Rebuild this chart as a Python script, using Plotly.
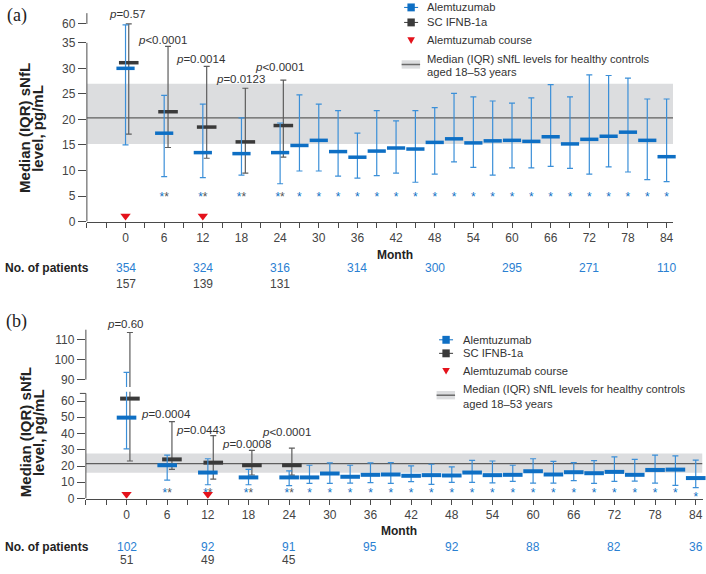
import plotly.graph_objects as go

W, H = 706, 574
def px(x): return x / W
def py(y): return 1 - y / H

# ---------------- data ----------------
alem_months = [0, 6, 12, 18, 24, 27, 30, 33, 36, 39, 42, 45, 48, 51, 54, 57, 60, 63, 66, 69, 72, 75, 78, 81, 84]
ifnb_months = [0, 6, 12, 18, 24]
ifnb_x_a = [0.5, 6.6, 12.6, 18.6, 24.5]
ifnb_x_b = [0.5, 6.7, 12.8, 18.5, 24.4]

# panel (a)
a_alem_med = [30.0, 17.3, 13.5, 13.3, 13.5, 14.9, 15.9, 13.7, 12.6, 13.8, 14.4, 14.2, 15.5, 16.2, 15.4, 15.8, 15.9, 15.7, 16.6, 15.2, 16.1, 16.7, 17.5, 15.9, 12.7]
a_alem_q3 = [59.8, 24.7, 23.0, 20.3, 19.3, 24.8, 23.0, 21.7, 17.3, 21.7, 19.7, 21.7, 22.3, 25.1, 24.4, 23.6, 23.2, 24.2, 26.8, 24.4, 28.7, 28.6, 28.1, 24.0, 24.0]
a_alem_q1 = [15.0, 8.8, 8.6, 9.1, 7.4, 9.9, 9.9, 8.9, 8.5, 9.0, 9.5, 7.7, 9.3, 11.7, 10.6, 9.1, 10.5, 10.5, 10.8, 10.4, 9.3, 10.7, 9.7, 8.2, 7.8]
a_ifnb_med = [31.1, 21.5, 18.5, 15.6, 18.8]
a_ifnb_q3 = [60.0, 34.3, 30.4, 26.1, 27.7]
a_ifnb_q1 = [17.1, 14.5, 12.4, 9.5, 12.6]
a_hc_median, a_hc_q1, a_hc_q3 = 20.3, 15.2, 27.0

# panel (b)
b_alem_med = [49.8, 20.5, 16.0, 13.0, 13.0, 13.0, 15.4, 13.4, 14.6, 14.8, 14.0, 14.4, 14.2, 16.0, 14.4, 14.6, 16.8, 14.8, 16.2, 15.6, 16.4, 14.6, 17.6, 17.8, 12.6]
b_alem_q3 = [93.6, 26.7, 24.5, 18.0, 17.0, 20.5, 21.9, 20.5, 21.9, 22.1, 20.1, 21.1, 19.5, 23.5, 23.1, 20.5, 24.5, 22.9, 22.1, 23.3, 25.6, 24.1, 26.7, 26.3, 23.7]
b_alem_q1 = [30.6, 11.3, 8.5, 8.5, 7.9, 9.3, 9.3, 9.5, 9.8, 9.3, 10.4, 8.7, 9.9, 9.9, 9.7, 10.6, 9.5, 9.5, 11.0, 9.3, 10.6, 10.7, 9.5, 8.1, 6.7]
b_ifnb_med = [61.5, 24.1, 22.1, 20.5, 20.5]
b_ifnb_q3 = [113.6, 47.4, 38.7, 29.6, 31.0]
b_ifnb_q1 = [23.1, 18.0, 12.0, 14.5, 14.4]
b_hc_median, b_hc_q1, b_hc_q3 = 21.5, 15.8, 27.7

course_months = [0, 12]
sig_months = [6, 12, 18, 24] + list(range(27, 85, 3))
sig_marks = ["**"] * 4 + ["*"] * 20

p_a = ["p=0.57", "p<0.0001", "p=0.0014", "p=0.0123", "p<0.0001"]
p_b = ["p=0.60", "p=0.0004", "p=0.0443", "p=0.0008", "p<0.0001"]

npat_months = [0, 12, 24, 36, 48, 60, 72, 84]
a_n_alem = [354, 324, 316, 314, 300, 295, 271, 110]
a_n_ifnb = [157, 139, 131]
b_n_alem = [102, 92, 91, 95, 92, 88, 82, 36]
b_n_ifnb = [51, 49, 45]

x_ticks = list(range(-6, 85, 3))
x_ticktext = [str(v) if (v >= 0 and v % 6 == 0) else "" for v in x_ticks]

# ---------------- styles ----------------
FONT = "Liberation Sans, Arial, sans-serif"
BLUE = "#0e6fc4"
BLUE_ERR = "#3b8fd8"
DARK = "#3a3a3a"
DARK_ERR = "#5c5c5c"
RED = "#e4121b"
TXT = "#333333"
NBLUE = "#2a80d2"
BAND = "#dcdddf"

# broken-axis transforms (value -> display units)
def brk_a(v):
    return v if v <= 36 else v - 21.3

def brk_b(v):
    return v if v <= 70 else 73.2 + (v - 90) * 1.228

fig = go.Figure()

def add_series(xs, med, q1, q3, brk, xa, ya, color, ecolor, size, lw):
    y = [brk(m) for m in med]
    up = [brk(h) - brk(m) for m, h in zip(med, q3)]
    dn = [brk(m) - brk(l) for m, l in zip(med, q1)]
    fig.add_trace(go.Scatter(
        x=xs, y=y, mode="markers", xaxis=xa, yaxis=ya, showlegend=False, cliponaxis=False,
        marker=dict(symbol="line-ew", size=size, line=dict(width=lw, color=color)),
        error_y=dict(type="data", symmetric=False, array=up, arrayminus=dn,
                     color=ecolor, thickness=1.2, width=3),
        hoverinfo="skip"))

# panel a
add_series(ifnb_x_a, a_ifnb_med, a_ifnb_q1, a_ifnb_q3, brk_a, "x", "y", DARK, DARK_ERR, 14, 3.5)
add_series(alem_months, a_alem_med, a_alem_q1, a_alem_q3, brk_a, "x", "y", BLUE, BLUE_ERR, 13, 3.5)
# panel b
add_series(ifnb_x_b, b_ifnb_med, b_ifnb_q1, b_ifnb_q3, brk_b, "x2", "y2", DARK, DARK_ERR, 14, 4)
add_series(alem_months, b_alem_med, b_alem_q1, b_alem_q3, brk_b, "x2", "y2", BLUE, BLUE_ERR, 14, 4)

def star_text(s):
    if s == "**":
        return f'<span style="color:{BLUE}">*</span><span style="color:#555555">*</span>'
    return s

a_star_y = [4.6] * len(sig_months)
b_star_y = [3.0] * (len(sig_months) - 1) + [0.6]
fig.add_trace(go.Scatter(x=sig_months, y=a_star_y, mode="text", xaxis="x", yaxis="y", cliponaxis=False,
                         text=[star_text(s) for s in sig_marks], showlegend=False,
                         textfont=dict(size=12, color=BLUE, family=FONT), hoverinfo="skip"))
fig.add_trace(go.Scatter(x=sig_months, y=b_star_y, mode="text", xaxis="x2", yaxis="y2", cliponaxis=False,
                         text=[star_text(s) for s in sig_marks], showlegend=False,
                         textfont=dict(size=12, color=BLUE, family=FONT), hoverinfo="skip"))

# alemtuzumab course triangles
fig.add_trace(go.Scatter(x=course_months, y=[1.1, 1.1], mode="markers", xaxis="x", yaxis="y",
                         marker=dict(symbol="triangle-down", size=9, color=RED), showlegend=False,
                         hoverinfo="skip"))
fig.add_trace(go.Scatter(x=course_months, y=[2.6, 2.6], mode="markers", xaxis="x2", yaxis="y2",
                         marker=dict(symbol="triangle-down", size=9, color=RED), showlegend=False,
                         hoverinfo="skip"))

shapes = []
# healthy control bands + median lines
shapes.append(dict(type="rect", xref="x", yref="y", x0=-6, x1=85, y0=a_hc_q1, y1=a_hc_q3,
                   fillcolor=BAND, line=dict(width=0), layer="below"))
shapes.append(dict(type="line", xref="x", yref="y", x0=-6, x1=85, y0=a_hc_median, y1=a_hc_median,
                   line=dict(color="#5f5f5f", width=1.2), layer="below"))
shapes.append(dict(type="rect", xref="x2", yref="y2", x0=-6, x1=85, y0=b_hc_q1, y1=b_hc_q3,
                   fillcolor=BAND, line=dict(width=0), layer="below"))
shapes.append(dict(type="line", xref="x2", yref="y2", x0=-6, x1=85, y0=b_hc_median, y1=b_hc_median,
                   line=dict(color="#5f5f5f", width=1.2), layer="below"))

AX = "#4a4a4a"
# broken y-axis lines, panel a
XA0 = 87
shapes.append(dict(type="line", xref="paper", yref="y", x0=px(XA0), x1=px(XA0), y0=0, y1=35,
                   line=dict(color=AX, width=1)))
shapes.append(dict(type="line", xref="paper", yref="y", x0=px(XA0), x1=px(XA0), y0=brk_a(60), y1=brk_a(62.1),
                   line=dict(color=AX, width=1)))
# panel b
XB0 = 86
XB1 = 703.5
shapes.append(dict(type="line", xref="paper", yref="y2", x0=px(XB0), x1=px(XB0), y0=0, y1=64.7,
                   line=dict(color=AX, width=1)))
shapes.append(dict(type="line", xref="paper", yref="y2", x0=px(XB0 - 6), x1=px(XB0), y0=64.7, y1=64.7,
                   line=dict(color=AX, width=1)))
shapes.append(dict(type="line", xref="paper", yref="y2", x0=px(XB0), x1=px(XB0), y0=brk_b(90), y1=brk_b(115),
                   line=dict(color=AX, width=1)))
# gap in error bars across the break (panel b)
shapes.append(dict(type="rect", xref="x2", yref="y2", x0=-1.5, x1=2.2, y0=65.8, y1=68.6,
                   fillcolor="white", line=dict(width=0), layer="above"))

# manual legends
def legend(x_sym, x_txt, ys):
    y1, y2, y3, y4, y5 = ys
    for yy, col in ((y1, BLUE), (y2, DARK)):
        shapes.append(dict(type="line", xref="paper", yref="paper", x0=px(x_sym - 7), x1=px(x_sym + 7),
                           y0=py(yy), y1=py(yy), line=dict(color=col, width=1)))
        shapes.append(dict(type="rect", xref="paper", yref="paper", x0=px(x_sym - 3.7), x1=px(x_sym + 3.7),
                           y0=py(yy - 4), y1=py(yy + 4), fillcolor=col, line=dict(width=0)))
    shapes.append(dict(type="path", xref="paper", yref="paper",
                       path=f"M {px(x_sym - 3.8)} {py(y3 - 3.2)} L {px(x_sym + 3.8)} {py(y3 - 3.2)} L {px(x_sym)} {py(y3 + 3.5)} Z",
                       fillcolor=RED, line=dict(width=0)))
    shapes.append(dict(type="rect", xref="paper", yref="paper", x0=px(x_sym - 9.5), x1=px(x_sym + 9),
                       y0=py(y4 + 1.5), y1=py(y4 + 10), fillcolor=BAND, line=dict(width=0)))
    shapes.append(dict(type="line", xref="paper", yref="paper", x0=px(x_sym - 9.5), x1=px(x_sym + 9),
                       y0=py(y4 + 5.8), y1=py(y4 + 5.8), line=dict(color="#6a6a6a", width=1.5)))
    texts = [(y1, "Alemtuzumab"), (y2, "SC IFNB-1a"), (y3, "Alemtuzumab course"),
             (y4, "Median (IQR) sNfL levels for healthy controls"), (y5, "aged 18–53 years")]
    return [dict(xref="paper", yref="paper", x=px(x_txt), y=py(yy), text=t, showarrow=False,
                 xanchor="left", yanchor="middle", font=dict(size=11.2, color=TXT, family=FONT))
            for yy, t in texts]

annotations = []
annotations += legend(411.7, 426, (7.5, 22.7, 41, 59.5, 72.5))
annotations += legend(446.7, 461.5, (344, 357.7, 375.7, 394.3, 409.3))

def ann(x, y, text, size=12, color=TXT, xanchor="center", angle=0, family=FONT):
    annotations.append(dict(xref="paper", yref="paper", x=px(x), y=py(y), text=text, showarrow=False,
                            xanchor=xanchor, yanchor="middle", textangle=angle,
                            font=dict(size=size, color=color, family=family)))

# panel labels
ann(17, 16, "(a)", size=18, color="#222", family="Liberation Serif, Times New Roman, serif")
ann(17, 325, "(b)", size=18, color="#222", family="Liberation Serif, Times New Roman, serif")

# y-axis titles
for yc in (129.5, 437.5):
    ann(25, yc, "<b>Median (IQR) sNfL</b>", size=15, color="#222", angle=-90)
    ann(38, yc, "<b>level, pg/mL</b>", size=15, color="#222", angle=-90)

# p-values
for (x, y), t in zip([(127.5, 14), (162.5, 40), (201, 60), (241, 80), (280, 67.7)], p_a):
    ann(x, y, "<i>p</i>" + t[1:], size=11.5)
for (x, y), t in zip([(125.5, 328.3), (166, 419.3), (201, 435), (247, 449), (287, 437.3)], p_b):
    ann(x, y, "<i>p</i>" + t[1:], size=11.5)

# month titles & patient numbers
ann(396, 258.3, "<b>Month</b>", size=12, color="#222")
ann(400, 537.5, "<b>Month</b>", size=12, color="#222")
ann(3, 271.7, "<b>No. of patients</b>", size=12, color="#222", xanchor="left")
ann(3, 553.5, "<b>No. of patients</b>", size=12, color="#222", xanchor="left")

def npat(xref, months, vals, ypix, color):
    for m, v in zip(months, vals):
        annotations.append(dict(xref=xref, yref="paper", x=m, y=py(ypix), text=str(v), showarrow=False,
                                xanchor="center", yanchor="middle",
                                font=dict(size=12, color=color, family=FONT)))

npat("x", npat_months, a_n_alem, 271.7, NBLUE)
npat("x", npat_months[:3], a_n_ifnb, 287.5, "#444444")
npat("x2", npat_months, b_n_alem, 553.5, NBLUE)
npat("x2", npat_months[:3], b_n_ifnb, 567, "#444444")

xcommon = dict(range=[-6, 85], showline=True, linecolor=AX, linewidth=1, ticks="outside", ticklen=5,
               tickcolor=AX, tickvals=x_ticks, ticktext=x_ticktext, showgrid=False, zeroline=False,
               tickfont=dict(size=12, color="#444", family=FONT), fixedrange=True,
               ticklabeloverflow="allow")
ycommon = dict(showline=False, ticks="outside", ticklen=8, tickcolor=AX, showgrid=False, zeroline=False,
               tickfont=dict(size=12, color="#444", family=FONT), fixedrange=True)

fig.update_layout(
    width=W, height=H, margin=dict(l=0, r=0, t=0, b=0),
    paper_bgcolor="white", plot_bgcolor="rgba(0,0,0,0)",
    font=dict(family=FONT, color=TXT),
    xaxis=dict(domain=[px(XA0), px(674)], anchor="y", **xcommon),
    yaxis=dict(domain=[py(224.3), py(5)], anchor="x", range=[0, (224.3 - 5) / 5.171],
               tickvals=[0, 5, 10, 15, 20, 25, 30, 35, brk_a(60)],
               ticktext=["0", "5", "10", "15", "20", "25", "30", "35", "60"], **ycommon),
    xaxis2=dict(domain=[px(XB0), px(XB1)], anchor="y2", **xcommon),
    yaxis2=dict(domain=[py(504.7), py(325)], anchor="x2", range=[0, (504.7 - 325) / 1.645],
                tickvals=[0, 10, 20, 30, 40, 50, 60, brk_b(90), brk_b(100), brk_b(110)],
                ticktext=["0", "10", "20", "30", "40", "50", "60", "90", "100", "110"], **ycommon),
    shapes=shapes, annotations=annotations, showlegend=False,
)

fig.write_html("out.html", config={"displayModeBar": False},
               post_script="document.body.style.margin='0';document.body.style.padding='0';"
                           "document.body.style.overflow='hidden';")
